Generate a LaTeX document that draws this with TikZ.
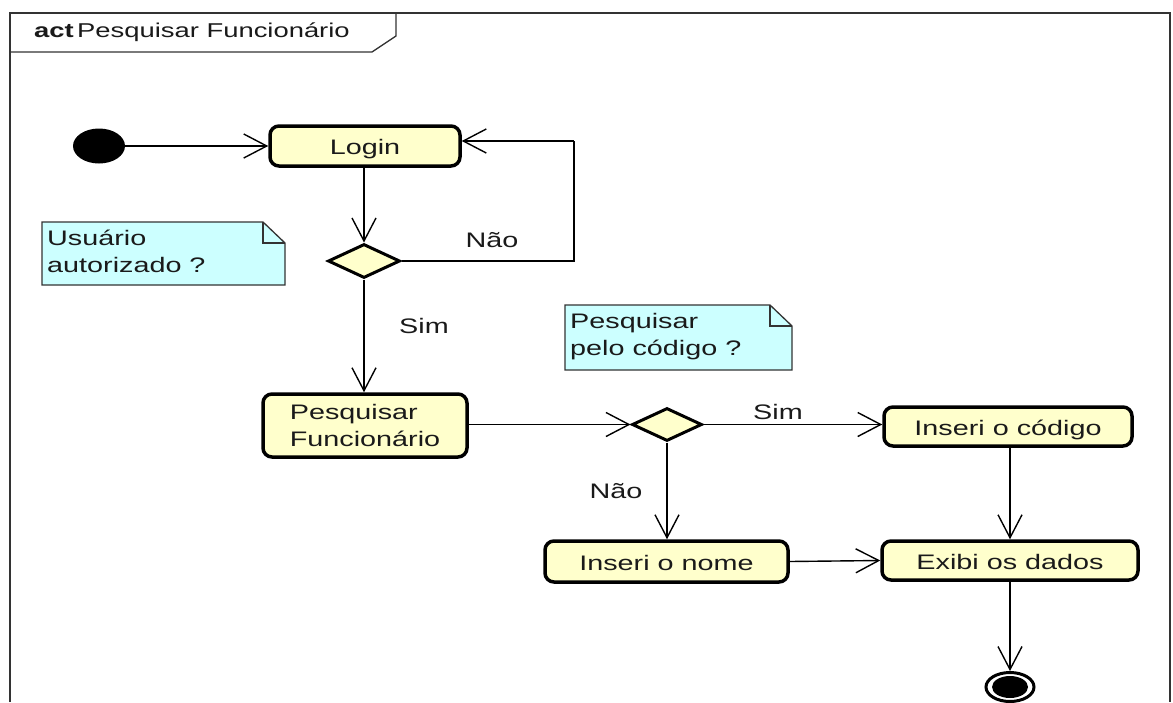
\documentclass[tikz,border=0pt]{standalone}
\usepackage{fontspec}
\setmainfont{Liberation Sans}[FakeStretch=1.37]
\usetikzlibrary{arrows.meta,shapes.geometric}
\definecolor{actfill}{HTML}{FFFFCC}
\definecolor{notefill}{HTML}{CCFFFF}
\definecolor{framegray}{HTML}{333333}
\definecolor{inkgray}{HTML}{1A1A1A}
\begin{document}
\begin{tikzpicture}[x=1pt,y=-1pt,
  font=\fontsize{21}{27}\selectfont, text=inkgray,
  action/.style={draw=black,line width=3.5pt,fill=actfill,rounded corners=9pt,
    inner sep=0pt,align=center},
  oneline/.style={text height=19pt,text depth=2pt},
  decision/.style={draw=black,line width=3pt,fill=actfill,shape=diamond,
    inner sep=0pt},
  flow/.style={line width=1.4pt,-{Straight Barb[length=23pt,width=24pt,line width=1.4pt]}},
  plainline/.style={line width=1.4pt},
  notebox/.style={draw=framegray,line width=1.3pt,fill=notefill},
  lbl/.style={inner sep=0pt}]
\useasboundingbox (0,0) rectangle (1173,702);
\fill[white] (0,0) rectangle (1173,702);

% frame with its name tag
\draw[framegray,line width=1.3pt] (10,702) -- (10,13) -- (1170,13) -- (1170,702);
\draw[framegray,line width=1.3pt] (10,52) -- (372,52) -- (396,36) -- (396,13);
\node[lbl,anchor=base west,font=\fontsize{20}{24}\selectfont] (title) at (34,37) {\textbf{act}\,Pesquisar Funcionário};

% notes
\draw[notebox] (42,222) -- (263,222) -- (285,243) -- (285,285) -- (42,285) -- cycle;
\draw[framegray,line width=1.3pt] (263,222) -- (263,243) -- (285,243);
\node[lbl,anchor=north west,align=left] (n1) at (47,230) {Usuário\\autorizado ?};
\draw[notebox] (565,305) -- (770,305) -- (792,326) -- (792,370) -- (565,370) -- cycle;
\draw[framegray,line width=1.3pt] (770,305) -- (770,326) -- (792,326);
\node[lbl,anchor=north west,align=left] (n2) at (570,313) {Pesquisar\\pelo código ?};

% initial and final nodes
\node[draw=none,fill=black,ellipse,minimum width=52pt,minimum height=35pt,inner sep=0pt] (start) at (99,146) {};
\node[draw=black,line width=3pt,fill=white,ellipse,minimum width=48pt,minimum height=29pt,inner sep=0pt] (final) at (1010,687) {};
\fill[black] (final.center) ellipse [x radius=18pt,y radius=11pt];

% actions
\node[action,oneline,minimum width=190pt,minimum height=40pt] (login) at (365,146) {Login};
\node[action,minimum width=204pt,minimum height=63pt,align=left] (pesq) at (365,425.5) {Pesquisar\\Funcionário};
\node[action,oneline,minimum width=248pt,minimum height=39pt] (codigo) at (1008,426.5) {Inseri o código};
\node[action,oneline,minimum width=243pt,minimum height=41pt] (nome) at (666.5,561.5) {Inseri o nome};
\node[action,oneline,minimum width=256pt,minimum height=39pt] (exibi) at (1010,560.5) {Exibi os dados};

% decisions
\node[decision,minimum width=72pt,minimum height=34pt] (d1) at (364,261) {};
\node[decision,minimum width=70pt,minimum height=33pt] (d2) at (667,424.5) {};

% loop-back corner
\coordinate (loopc) at (574,141);

% flows
\draw[flow] (start.east) -- (login.west);
\draw[flow] (login.south -| d1.north) -- (d1.north);
\draw[plainline] (d1.east) -| (loopc);
\draw[flow] (loopc) -- (login.east |- loopc);
\node[lbl] (nao1) at (492,240) {Não};
\draw[flow] (d1.south) -- (d1.south |- pesq.north);
\node[lbl] (sim1) at (424,326) {Sim};
\draw[flow] (pesq.east |- d2.west) -- (d2.west);
\draw[flow] (d2.east) -- (codigo.west |- d2.east);
\node[lbl] (sim2) at (778,412) {Sim};
\draw[flow] (d2.south) -- (d2.south |- nome.north);
\node[lbl] (nao2) at (616,491) {Não};
\draw[flow] (exibi.north |- codigo.south) -- (exibi.north);
\draw[flow] (nome.east) -- (exibi.west);
\draw[flow] (exibi.south) -- (final.north);
\end{tikzpicture}
\end{document}
